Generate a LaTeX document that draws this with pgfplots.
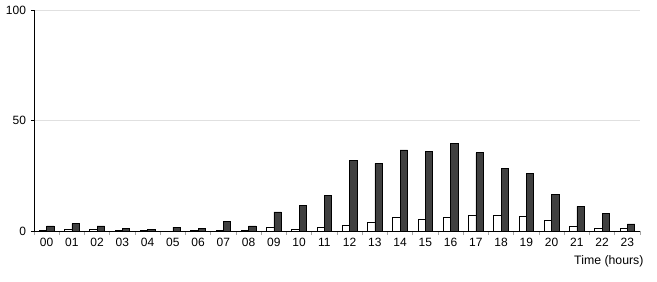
\documentclass[border=0pt]{standalone}
\usepackage{fontspec}
\setmainfont{Liberation Sans}
\usepackage{pgfplots}
\pgfplotsset{compat=1.18}
\definecolor{darkbar}{HTML}{404040}
\definecolor{gridc}{HTML}{E0E0E0}
\begin{document}
\begin{tikzpicture}
\begin{axis}[
  name=ax, at={(0,0)}, anchor=south west,
  scale only axis, width=606pt, height=221pt,
  ymin=0, ymax=100, xmin=-0.5, xmax=23.5,
  ybar=0pt, bar width=7.4pt,
  axis x line*=bottom, axis y line*=left,
  axis line style={black, line width=0.9pt},
  ytick={0,50,100},
  ymajorgrids, grid style={gridc, line width=0.6pt},
  xtick={0,...,23},
  xticklabels={00,01,02,03,04,05,06,07,08,09,10,11,12,13,14,15,16,17,18,19,20,21,22,23},
  major x tick style={draw=none},
  minor xtick={-0.5,0.5,...,23.5},
  minor x tick style={draw=gray!70, line width=0.6pt},
  minor tick length=4pt,
  major tick length=3pt,
  y tick style={black, line width=0.6pt},
  tick align=outside,
  tick label style={font=\fontsize{12}{14}\selectfont},
  /pgf/number format/assume math mode=true,
  xticklabel style={yshift=-0.5pt},
  yticklabel style={xshift=-1.5pt},
  xlabel={Time (hours)},
  xlabel style={font=\fontsize{12.3}{14}\selectfont, at={(rel axis cs:1,0)}, anchor=north east, yshift=-21pt, xshift=7pt},
  clip=false,
]
\addplot[draw=black, fill=white, line width=0.6pt] coordinates {
(0,0.4) (1,0.7) (2,0.9) (3,0.4) (4,0.1) (5,0.05) (6,0.3) (7,0.3) (8,0.4) (9,1.8) (10,0.7) (11,1.8)
(12,2.6) (13,4.1) (14,6.0) (15,5.3) (16,6.2) (17,7.2) (18,6.9) (19,6.5) (20,4.8) (21,2.1) (22,1.2) (23,1.0)};
\addplot[draw=black, fill=darkbar, line width=0.6pt] coordinates {
(0,2.3) (1,3.3) (2,2.3) (3,1.0) (4,0.6) (5,1.7) (6,1.0) (7,4.2) (8,2.3) (9,8.6) (10,11.6) (11,16.1)
(12,31.8) (13,30.6) (14,36.7) (15,36.0) (16,39.7) (17,35.4) (18,28.4) (19,26.1) (20,16.4) (21,11.2) (22,8.0) (23,3.2)};
\end{axis}
\path[use as bounding box] ([shift={(-34pt,-50pt)}]ax.south west) rectangle ([shift={(17pt,10pt)}]ax.north east);
\end{tikzpicture}
\end{document}
